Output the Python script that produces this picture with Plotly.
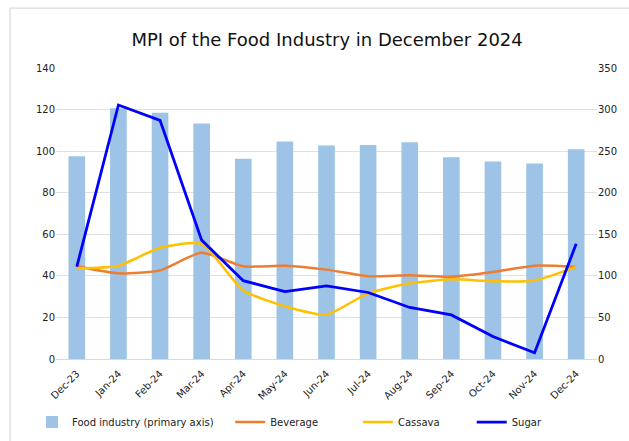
import plotly.graph_objects as go

months = ["Dec-23", "Jan-24", "Feb-24", "Mar-24", "Apr-24", "May-24", "Jun-24",
          "Jul-24", "Aug-24", "Sep-24", "Oct-24", "Nov-24", "Dec-24"]
food = [97.6, 120.6, 118.5, 113.3, 96.3, 104.6, 102.7, 102.9, 104.3, 97.1, 95.0, 94.0, 100.9]
beverage = [111.5, 103, 106.6, 127.9, 111.5, 112.2, 107.5, 99.5, 100.6, 99.0, 104.6, 112.2, 110.8]
cassava = [109, 112.2, 133.9, 138.3, 82.5, 63.5, 53.5, 79, 91, 95.8, 93.5, 94.5, 110.8]
sugar = [111, 305.5, 287, 143, 94.2, 81, 88, 80, 62, 53, 27, 7.5, 138.5]

FONT = "DejaVu Sans"
TXT = "#222222"

fig = go.Figure()
fig.add_trace(go.Bar(x=months, y=food, name="Food industry (primary axis)",
                     marker=dict(color="#9DC3E6", line=dict(width=0)), yaxis="y",
                     legend="legend"))
fig.add_trace(go.Scatter(x=months, y=beverage, name="Beverage", mode="lines",
                         line=dict(color="#ED7D31", width=2.5, shape="spline", smoothing=0.6),
                         yaxis="y2", legend="legend2"))
fig.add_trace(go.Scatter(x=months, y=cassava, name="Cassava", mode="lines",
                         line=dict(color="#FFC000", width=2.5, shape="spline", smoothing=0.6),
                         yaxis="y2", legend="legend3"))
fig.add_trace(go.Scatter(x=months, y=sugar, name="Sugar", mode="lines",
                         line=dict(color="#0000FF", width=2.8), yaxis="y2",
                         legend="legend4"))

def leg(x):
    return dict(orientation="h", xref="container", yref="container",
                x=x, xanchor="left", y=0.043, yanchor="middle",
                font=dict(family=FONT, size=10, color=TXT), bgcolor="rgba(0,0,0,0)")

fig.update_layout(
    width=629, height=441,
    margin=dict(l=56, r=32, t=68, b=82, autoexpand=False),
    paper_bgcolor="white", plot_bgcolor="white",
    font=dict(family=FONT, size=10, color=TXT),
    title=dict(text="MPI of the Food Industry in December 2024", x=0.52, xanchor="center",
               y=0.91, yanchor="middle",
               font=dict(family=FONT, size=18, color="#111111")),
    bargap=0.6,
    xaxis=dict(type="category", tickangle=-45, showgrid=False, showline=True,
               linecolor="#D9D9D9", linewidth=1, ticks="outside", ticklen=4,
               tickcolor="rgba(0,0,0,0)", automargin=False,
               tickfont=dict(family=FONT, size=10, color=TXT)),
    yaxis=dict(range=[0, 140], dtick=20, showgrid=True, gridcolor="#E0E0E0", gridwidth=1,
               zeroline=False, showline=False, automargin=False,
               tickfont=dict(family=FONT, size=10, color=TXT)),
    yaxis2=dict(range=[0, 350], dtick=50, overlaying="y", side="right", showgrid=False,
                zeroline=False, showline=False, automargin=False,
                tickfont=dict(family=FONT, size=10, color=TXT)),
    legend=leg(0.051),
    legend2=leg(0.366),
    legend3=leg(0.569),
    legend4=leg(0.750),
    showlegend=True,
    shapes=[dict(type="rect", xref="paper", yref="paper", x0=-0.085, x1=1.3,
                 y0=-0.4, y1=1.206, line=dict(color="#D9D9D9", width=1.2),
                 fillcolor="rgba(0,0,0,0)", layer="below")],
)

fig.write_html("out.html")
